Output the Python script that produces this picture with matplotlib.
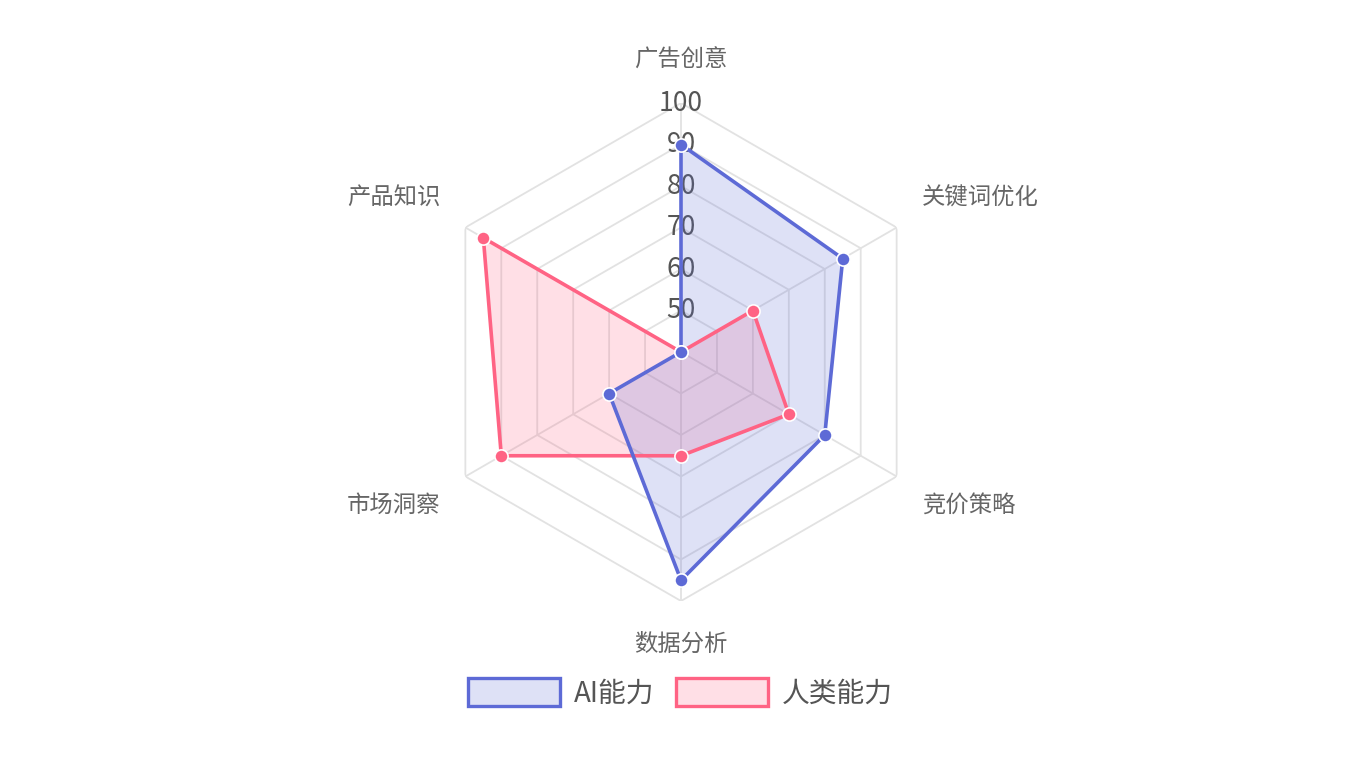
import numpy as np
import matplotlib
matplotlib.use("Agg")
import matplotlib.pyplot as plt
from matplotlib.patches import Patch

plt.rcParams['font.family'] = ['Noto Sans CJK SC', 'DejaVu Sans']

# data
categories = ['广告创意', '关键词优化', '竞价策略', '数据分析', '市场洞察', '产品知识']
ai_scores = [90, 85, 80, 95, 60, 40]
human_scores = [40, 60, 70, 65, 90, 95]
series_names = ['AI能力', '人类能力']
ring_ticks = [50, 60, 70, 80, 90, 100]
r_min, r_max = 40, 100

ai_color = '#5D6AD6'
human_color = '#FF6384'
grid_color = '#E2E2E2'

fig = plt.figure(figsize=(13.66, 7.78), dpi=100)
ax = fig.add_axes([432 / 1366, 177 / 778, 498 / 1366, 498 / 778], projection='polar')
ax.set_theta_zero_location('N')
ax.set_theta_direction(-1)
ax.set_ylim(r_min, r_max)
ax.set_xticks([])
ax.set_yticks([])
ax.grid(False)
ax.spines['polar'].set_visible(False)
ax.patch.set_alpha(0)

n = len(categories)
angles = [i * 2 * np.pi / n for i in range(n)]
closed = angles + [angles[0]]

# hexagon grid + spokes
for v in ring_ticks:
    ax.plot(closed, [v] * (n + 1), color=grid_color, lw=1.3, zorder=1)
for a in angles:
    ax.plot([a, a], [r_min, r_max], color=grid_color, lw=1.3, zorder=1)

# tick labels along the top spoke
for v in ring_ticks:
    ax.text(0, v, str(v), ha='center', va='center', fontsize=19,
            color='#555555', zorder=2)

# category labels
offsets = [(0, 43), (25, 29), (25, -29), (0, -43), (-25, -29), (-25, 29)]
for a, lab, off in zip(angles, categories, offsets):
    ha = 'center' if off[0] == 0 else ('left' if off[0] > 0 else 'right')
    ax.annotate(lab, xy=(a, r_max), xytext=off, textcoords='offset pixels',
                ha=ha, va='center', fontsize=16.8, color='#666666',
                annotation_clip=False)

# series, human underneath
for vals, col in [(human_scores, human_color), (ai_scores, ai_color)]:
    vv = vals + [vals[0]]
    ax.fill(closed, vv, color=col, alpha=0.2, lw=0, zorder=3)
    ax.plot(closed, vv, color=col, lw=2.6, zorder=4)
    ax.plot(angles, vals, 'o', ms=9.5, mfc=col, mec='white', mew=1.2, zorder=5)

handles = [
    Patch(facecolor=matplotlib.colors.to_rgba(ai_color, 0.2), edgecolor=ai_color, lw=2.4),
    Patch(facecolor=matplotlib.colors.to_rgba(human_color, 0.2), edgecolor=human_color, lw=2.4),
]
leg = fig.legend(handles, series_names, loc='center', bbox_to_anchor=(0.498, 0.109),
                 ncol=2, frameon=False, fontsize=20, handlelength=3.3,
                 handleheight=1.2, handletextpad=0.5, columnspacing=0.8)
for t in leg.get_texts():
    t.set_color('#555555')

fig.savefig('out.png', dpi=100)
